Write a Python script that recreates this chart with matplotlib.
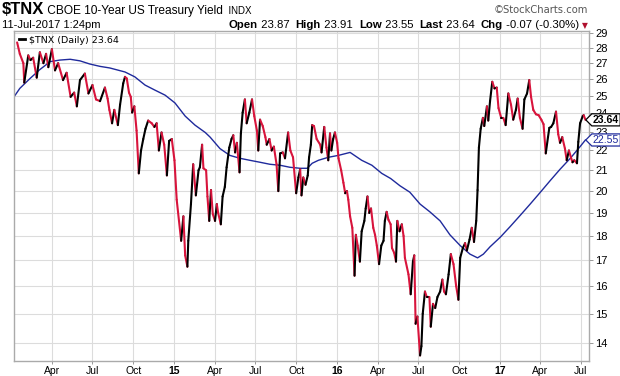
import matplotlib
matplotlib.use("Agg")
import numpy as np
import pandas as pd
import matplotlib.pyplot as plt
import matplotlib.dates as mdates
from matplotlib.collections import LineCollection
from matplotlib.lines import Line2D
from matplotlib.path import Path

plt.rcParams['font.family'] = ['Liberation Sans', 'DejaVu Sans']

# $TNX daily close
price_dates = [
    "2014-01-13", "2014-01-19", "2014-01-27", "2014-01-29", "2014-02-07", "2014-02-12", "2014-02-18",
    "2014-02-26", "2014-03-05", "2014-03-13", "2014-03-19", "2014-03-24", "2014-04-01", "2014-04-08",
    "2014-04-15", "2014-04-26", "2014-05-04", "2014-05-13", "2014-05-21", "2014-05-27", "2014-06-03",
    "2014-06-14", "2014-06-22", "2014-07-01", "2014-07-09", "2014-07-18", "2014-07-29", "2014-08-04",
    "2014-08-08", "2014-08-14", "2014-08-19", "2014-08-27", "2014-09-01", "2014-09-08", "2014-09-12",
    "2014-09-16", "2014-09-21", "2014-09-25", "2014-09-28", "2014-10-03", "2014-10-08", "2014-10-13",
    "2014-10-18", "2014-10-23", "2014-10-28", "2014-11-03", "2014-11-11", "2014-11-17", "2014-11-22",
    "2014-11-27", "2014-12-03", "2014-12-09", "2014-12-15", "2014-12-20", "2014-12-26", "2015-01-01",
    "2015-01-06", "2015-01-16", "2015-01-21", "2015-01-25", "2015-01-30", "2015-02-01", "2015-02-07",
    "2015-02-12", "2015-02-18", "2015-02-24", "2015-02-27", "2015-03-04", "2015-03-07", "2015-03-13",
    "2015-03-16", "2015-03-20", "2015-03-24", "2015-03-28", "2015-04-02", "2015-04-06", "2015-04-09",
    "2015-04-15", "2015-04-19", "2015-04-24", "2015-04-28", "2015-05-04", "2015-05-09", "2015-05-13",
    "2015-05-17", "2015-05-21", "2015-05-27", "2015-05-30", "2015-06-03", "2015-06-08", "2015-06-12",
    "2015-06-18", "2015-06-24", "2015-06-29", "2015-07-05", "2015-07-08", "2015-07-12", "2015-07-18",
    "2015-07-24", "2015-07-27", "2015-08-02", "2015-08-07", "2015-08-12", "2015-08-18", "2015-08-22",
    "2015-08-26", "2015-09-01", "2015-09-06", "2015-09-13", "2015-09-18", "2015-09-24", "2015-10-01",
    "2015-10-06", "2015-10-10", "2015-10-13", "2015-10-17", "2015-10-22", "2015-10-27", "2015-10-30",
    "2015-11-03", "2015-11-06", "2015-11-10", "2015-11-16", "2015-11-24", "2015-11-27", "2015-12-03",
    "2015-12-08", "2015-12-12", "2015-12-16", "2015-12-19", "2015-12-23", "2015-12-27", "2016-01-01",
    "2016-01-04", "2016-01-10", "2016-01-15", "2016-01-19", "2016-01-23", "2016-01-26", "2016-01-30",
    "2016-02-04", "2016-02-09", "2016-02-12", "2016-02-16", "2016-02-21", "2016-02-25", "2016-03-02",
    "2016-03-05", "2016-03-09", "2016-03-13", "2016-03-17", "2016-03-22", "2016-03-26", "2016-03-30",
    "2016-04-04", "2016-04-09", "2016-04-14", "2016-04-17", "2016-04-21", "2016-04-25", "2016-04-30",
    "2016-05-03", "2016-05-08", "2016-05-12", "2016-05-15", "2016-05-20", "2016-05-25", "2016-05-29",
    "2016-06-01", "2016-06-09", "2016-06-14", "2016-06-19", "2016-06-22", "2016-06-25", "2016-06-29",
    "2016-07-05", "2016-07-08", "2016-07-11", "2016-07-16", "2016-07-20", "2016-07-26", "2016-07-29",
    "2016-08-03", "2016-08-08", "2016-08-13", "2016-08-19", "2016-08-24", "2016-08-28", "2016-09-01",
    "2016-09-07", "2016-09-12", "2016-09-18", "2016-09-24", "2016-09-29", "2016-10-03", "2016-10-09",
    "2016-10-14", "2016-10-18", "2016-10-24", "2016-10-29", "2016-11-03", "2016-11-08", "2016-11-11",
    "2016-11-14", "2016-11-18", "2016-11-23", "2016-11-26", "2016-12-02", "2016-12-05", "2016-12-09",
    "2016-12-14", "2016-12-19", "2016-12-24", "2016-12-28", "2017-01-03", "2017-01-08", "2017-01-13",
    "2017-01-19", "2017-01-25", "2017-01-30", "2017-02-05", "2017-02-09", "2017-02-14", "2017-02-20",
    "2017-02-24", "2017-03-02", "2017-03-07", "2017-03-11", "2017-03-16", "2017-03-22", "2017-03-28",
    "2017-04-03", "2017-04-08", "2017-04-13", "2017-04-18", "2017-04-21", "2017-04-25", "2017-04-30",
    "2017-05-06", "2017-05-11", "2017-05-15", "2017-05-20", "2017-05-26", "2017-05-30", "2017-06-04",
    "2017-06-09", "2017-06-12", "2017-06-16", "2017-06-22", "2017-06-25", "2017-06-29", "2017-07-05",
    "2017-07-07", "2017-07-11",
]
price_vals = [
    28.35, 27.6, 27.0, 25.8, 27.5, 27.2, 27.35,
    26.1, 27.7, 27.0, 27.6, 26.75, 27.9, 26.55,
    27.0, 25.95, 26.4, 24.95, 25.2, 24.4, 25.95,
    26.35, 25.15, 25.65, 24.8, 24.7, 25.5, 24.85,
    24.2, 23.45, 24.2, 23.35, 24.5, 25.75, 26.15,
    26.05, 25.2, 24.95, 24.05, 24.4, 23.05, 20.85,
    22.0, 22.6, 23.15, 23.6, 23.45, 23.25, 23.45,
    22.0, 22.95, 22.3, 20.75, 22.5, 22.6, 21.5,
    19.6, 17.8, 18.85, 17.2, 16.75, 17.8, 19.4,
    21.3, 19.8, 21.0, 21.15, 22.3, 21.1, 21.0,
    19.75, 18.65, 20.05, 18.95, 18.65, 19.4, 19.0,
    18.5, 19.75, 20.2, 21.15, 22.15, 22.6, 22.8,
    21.9, 22.4, 20.9, 22.9, 24.05, 24.8, 23.45,
    24.05, 24.8, 23.85, 23.05, 22.0, 23.65, 23.3,
    22.7, 22.3, 22.6, 22.0, 22.2, 21.3, 20.0,
    21.85, 21.9, 21.6, 22.95, 22.0, 21.65, 19.9,
    20.65, 21.05, 19.8, 20.65, 20.3, 20.75, 21.65,
    22.3, 23.35, 23.3, 22.6, 22.3, 21.9, 23.25,
    22.15, 21.5, 22.9, 22.0, 22.6, 22.95, 22.4,
    21.6, 21.0, 20.4, 19.9, 20.0, 19.6, 18.85,
    18.35, 16.4, 18.05, 17.6, 16.95, 18.2, 18.65,
    19.2, 19.75, 19.0, 19.2, 18.35, 18.05, 17.6,
    16.85, 17.6, 17.8, 18.65, 19.05, 18.7, 18.5,
    17.5, 17.3, 16.95, 18.65, 18.2, 18.5, 18.0,
    17.1, 16.45, 15.7, 16.95, 17.2, 14.65, 14.9,
    13.6, 13.9, 15.0, 15.8, 15.6, 15.6, 14.55,
    15.35, 15.2, 15.6, 15.8, 16.25, 15.8, 15.7,
    16.45, 17.25, 16.85, 16.0, 15.5, 17.1, 17.5,
    17.7, 17.4, 17.85, 18.35, 17.75, 18.65, 20.05,
    22.15, 23.15, 23.75, 23.3, 24.4, 23.6, 24.7,
    25.85, 25.45, 25.5, 24.3, 23.75, 23.75, 23.35,
    25.15, 24.5, 23.65, 24.2, 24.85, 23.75, 23.15,
    24.8, 25.15, 25.95, 24.95, 24.2, 23.95, 23.9,
    23.65, 23.4, 21.85, 22.7, 23.2, 23.25, 23.45,
    24.1, 22.85, 22.4, 22.7, 22.1, 21.5, 22.0,
    21.6, 21.4, 21.5, 21.35, 22.45, 23.45, 23.85,
    23.9, 23.64,
]

# moving average (blue line)
ma_dates = [
    "2014-01-06", "2014-01-19", "2014-02-11", "2014-03-05", "2014-03-28", "2014-04-19", "2014-05-12",
    "2014-06-03", "2014-06-25", "2014-07-18", "2014-08-09", "2014-09-12", "2014-10-04", "2014-10-27",
    "2014-11-18", "2014-12-11", "2015-01-02", "2015-01-25", "2015-02-16", "2015-03-11", "2015-03-22",
    "2015-04-13", "2015-05-05", "2015-05-28", "2015-06-19", "2015-07-12", "2015-08-03", "2015-08-26",
    "2015-09-17", "2015-10-10", "2015-10-26", "2015-11-06", "2015-11-20", "2015-12-12", "2016-01-04",
    "2016-01-30", "2016-02-25", "2016-03-19", "2016-04-10", "2016-04-30", "2016-05-21", "2016-06-12",
    "2016-07-05", "2016-07-27", "2016-08-19", "2016-09-10", "2016-10-03", "2016-10-25", "2016-11-11",
    "2016-11-24", "2016-12-09", "2017-01-01", "2017-01-23", "2017-02-15", "2017-03-09", "2017-04-01",
    "2017-04-23", "2017-05-15", "2017-06-07", "2017-06-29", "2017-07-11",
]
ma_vals = [
    24.95, 25.45, 26.05, 26.6, 27.1, 27.2, 27.25,
    27.15, 26.95, 26.8, 26.7, 26.45, 26.15, 25.65,
    25.35, 25.05, 24.6, 23.85, 23.35, 22.95, 22.7,
    22.1, 21.75, 21.6, 21.5, 21.4, 21.3, 21.25,
    21.15, 21.1, 21.1, 21.35, 21.5, 21.65, 21.75,
    21.9, 21.5, 21.25, 20.85, 20.6, 20.25, 19.95,
    19.4, 19.05, 18.65, 18.05, 17.6, 17.25, 17.1,
    17.25, 17.55, 17.95, 18.4, 18.9, 19.4, 19.95,
    20.5, 21.05, 21.6, 22.2, 22.55,
]

y_ticks = [14, 15, 16, 17, 18, 19, 20, 21, 22, 23, 24, 25, 26, 27, 28, 29]
x_tick_dates = ["2014-04-01", "2014-07-01", "2014-10-01", "2015-01-01", "2015-04-01", "2015-07-01",
                "2015-10-01", "2016-01-01", "2016-04-01", "2016-07-01", "2016-10-01", "2017-01-01",
                "2017-04-01", "2017-07-01"]
x_tick_labels = ["Apr", "Jul", "Oct", "15", "Apr", "Jul", "Oct", "16", "Apr", "Jul", "Oct", "17", "Apr", "Jul"]

RED = "#d8143c"
BLUE = "#1f2a9c"
GRID = "#dcdcdc"

fig = plt.figure(figsize=(6.2, 3.76), dpi=100)
ax = fig.add_axes([14 / 620, 15.5 / 376, 575 / 620, 329.5 / 376])

px = mdates.date2num(pd.to_datetime(price_dates))
py = np.array(price_vals)
segs = np.stack([np.column_stack([px[:-1], py[:-1]]), np.column_stack([px[1:], py[1:]])], axis=1)
cols = [RED if b < a else "black" for a, b in zip(py[:-1], py[1:])]
ax.add_collection(LineCollection(segs, colors=cols, linewidths=1.5, zorder=3, capstyle="round"))

ax.plot(pd.to_datetime(ma_dates), ma_vals, color=BLUE, lw=1.0, zorder=2)

ax.set_yscale("log")
ax.set_ylim(13.44, 29.12)
ax.set_xlim(pd.Timestamp("2014-01-06"), pd.Timestamp("2017-07-19"))
ax.yaxis.tick_right()
ax.set_yticks(y_ticks)
ax.set_yticklabels([str(t) for t in y_ticks])
ax.yaxis.set_minor_locator(matplotlib.ticker.NullLocator())
ax.set_xticks(pd.to_datetime(x_tick_dates))
ax.set_xticklabels(x_tick_labels)
for lbl in ax.get_xticklabels():
    if not lbl.get_text().isalpha():
        lbl.set_fontweight("bold")
ax.tick_params(axis="y", labelsize=8, length=3, width=0.6, color="#888888", pad=1.5)
ax.tick_params(axis="x", labelsize=7.5, length=2, width=0.6, color="#888888", pad=2)
ax.grid(True, color=GRID, lw=0.8)
ax.set_axisbelow(True)
for s in ax.spines.values():
    s.set_color("#aaaaaa")
    s.set_linewidth(1.0)

# legend
ax.legend([Line2D([], [], color="black", lw=2)], ["$TNX (Daily) 23.64"], loc="upper left",
          frameon=False, handlelength=0.7, handletextpad=0.4, borderaxespad=0.1,
          prop={"family": "DejaVu Sans", "size": 6.8})


# price tags on the right
def tag_box(x0, y0, width, height, mutation_size):
    pad = mutation_size * 0.1
    x0, y0 = x0 - pad, y0 - pad
    x1, y1 = x0 + width + 2 * pad, y0 + height + 2 * pad
    tip = (y1 - y0) / 2
    return Path([(x0, y0), (x1, y0), (x1, y1), (x0, y1), (x0 - tip, (y0 + y1) / 2), (x0, y0)], closed=True)


for val, col, weight in [(price_vals[-1], "black", "bold"), (ma_vals[-1], BLUE, "normal")]:
    ax.annotate(f"{val:.2f}", xy=(1, val), xycoords=ax.get_yaxis_transform(),
                xytext=(2.8, 0), textcoords="offset points", ha="left", va="center",
                fontsize=7.6, color=col, fontweight=weight, zorder=10, annotation_clip=False,
                bbox=dict(boxstyle=tag_box, fc="white", ec=col, lw=0.9))

# header
renderer = fig.canvas.get_renderer()


def put_row(parts, x, y, align="left"):
    items = parts if align == "left" else list(reversed(parts))
    for txt, kw in items:
        t = fig.text(x / 620, 1 - y / 376, txt, va="baseline", ha=align, **kw)
        w = t.get_window_extent(renderer).width
        x = x + w if align == "left" else x - w


put_row([("$TNX", dict(fontsize=12, fontweight="bold")),
         (" CBOE 10-Year US Treasury Yield", dict(fontsize=8.6)),
         ("  INDX", dict(fontsize=7))], 2, 14)
fig.text(588 / 620, 1 - 13 / 376, "\u00a9StockCharts.com", fontsize=7.2, color="#555555",
         family="DejaVu Sans", va="baseline", ha="right")
fig.text(2 / 620, 1 - 28 / 376, "11-Jul-2017 1:24pm", fontsize=8, va="baseline")

bold = dict(fontsize=8.2, fontweight="bold")
norm = dict(fontsize=8.2)
put_row([("Open", bold), (" 23.87  ", norm), ("High", bold), (" 23.91  ", norm),
         ("Low", bold), (" 23.55  ", norm), ("Last", bold), (" 23.64  ", norm),
         ("Chg", bold), (" -0.07 (-0.30%) ", norm),
         ("\u25bc", dict(fontsize=5.5, color="#b0102e", family="DejaVu Sans"))], 588, 28, align="right")

fig.savefig("out.png", dpi=100)
